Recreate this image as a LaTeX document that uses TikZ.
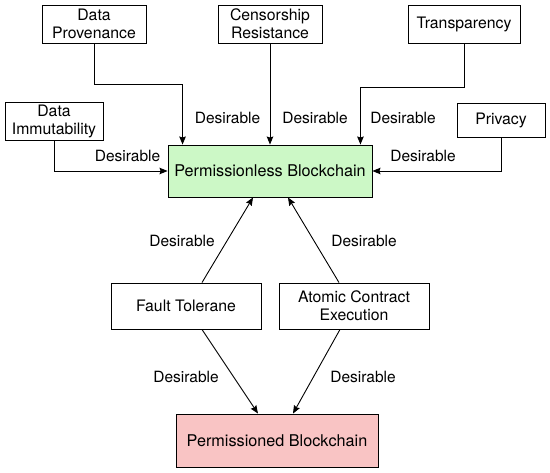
\documentclass[tikz,border=0pt]{standalone}
\usepackage{fontspec}
\setmainfont{TeX Gyre Heros}
\usepackage{tikz}
\usetikzlibrary{positioning,arrows.meta,calc}
\usepackage{xcolor}
\definecolor{PlessGreen}{RGB}{204,248,198}
\definecolor{PnedPink}{RGB}{249,196,196}
\tikzset{
  box/.style={draw=black,line width=0.9pt,fill=white,inner sep=0pt,align=center,font=\fontsize{15.8}{18}\selectfont},
  gbox/.style={box,fill=PlessGreen,font=\fontsize{16.2}{18}\selectfont},
  rbox/.style={box,fill=PnedPink,font=\fontsize{16.2}{18}\selectfont},
  arrow/.style={-{Stealth[length=8pt,width=6.5pt,inset=1pt]},line width=0.9pt,draw=black},
  lbl/.style={inner sep=0pt,font=\fontsize{15.5}{18}\selectfont},
}
\begin{document}
\begin{tikzpicture}[x=1pt,y=-1pt]
      \useasboundingbox (0,0) rectangle (550,473);
      % top properties
      \node[box,minimum width=104,minimum height=38] (prov) at (94,24) {Data\\Provenance};
      \node[box,minimum width=104,minimum height=38] (cens) at (270,24) {Censorship\\Resistance};
      \node[box,minimum width=112,minimum height=38] (trans) at (464,24) {Transparency};
      \node[box,minimum width=98,minimum height=38] (immut) at (54,121) {Data\\Immutability};
      \node[box,minimum width=88,minimum height=34] (priv) at (501,120) {Privacy};
      % blockchains
      \node[gbox,minimum width=204,minimum height=52] (pless) at (270,171) {Permissionless Blockchain};
      \node[rbox,minimum width=202,minimum height=53] (pned) at (277,440.5) {Permissioned Blockchain};
      % shared properties
      \node[box,minimum width=150,minimum height=46] (fault) at (186,306) {Fault Tolerane};
      \node[box,minimum width=150,minimum height=46] (atomic) at (354,306) {Atomic Contract\\Execution};
      % edge labels
      \node[lbl] (d1) at (227.5,118) {Desirable};
      \node[lbl] (d2) at (315,118) {Desirable};
      \node[lbl] (d3) at (403,118) {Desirable};
      \node[lbl] (d4) at (127.5,156) {Desirable};
      \node[lbl] (d5) at (423,156) {Desirable};
      \node[lbl] (d6) at (182,241) {Desirable};
      \node[lbl] (d7) at (364,241) {Desirable};
      \node[lbl] (d8) at (186,377) {Desirable};
      \node[lbl] (d9) at (363,377) {Desirable};
      % connectors
      \draw[arrow] (prov.south) -- ++(0,41) -| ([xshift=15pt]pless.north west);
      \draw[arrow] (cens.south) -- (pless.north);
      \draw[arrow] (trans.south) -- ++(0,44) -| ([xshift=-12pt]pless.north east);
      \draw[arrow] (immut.south) |- (pless.west);
      \draw[arrow] (priv.south) |- (pless.east);
      \draw[arrow] ([xshift=16pt]fault.north) -- ([xshift=-17pt]pless.south);
      \draw[arrow] ([xshift=-15pt]atomic.north) -- ([xshift=18pt]pless.south);
      \draw[arrow] ([xshift=16pt]fault.south) -- ([xshift=-19pt]pned.north);
      \draw[arrow] ([xshift=-14pt]atomic.south) -- ([xshift=16pt]pned.north);
    \end{tikzpicture}
\end{document}
